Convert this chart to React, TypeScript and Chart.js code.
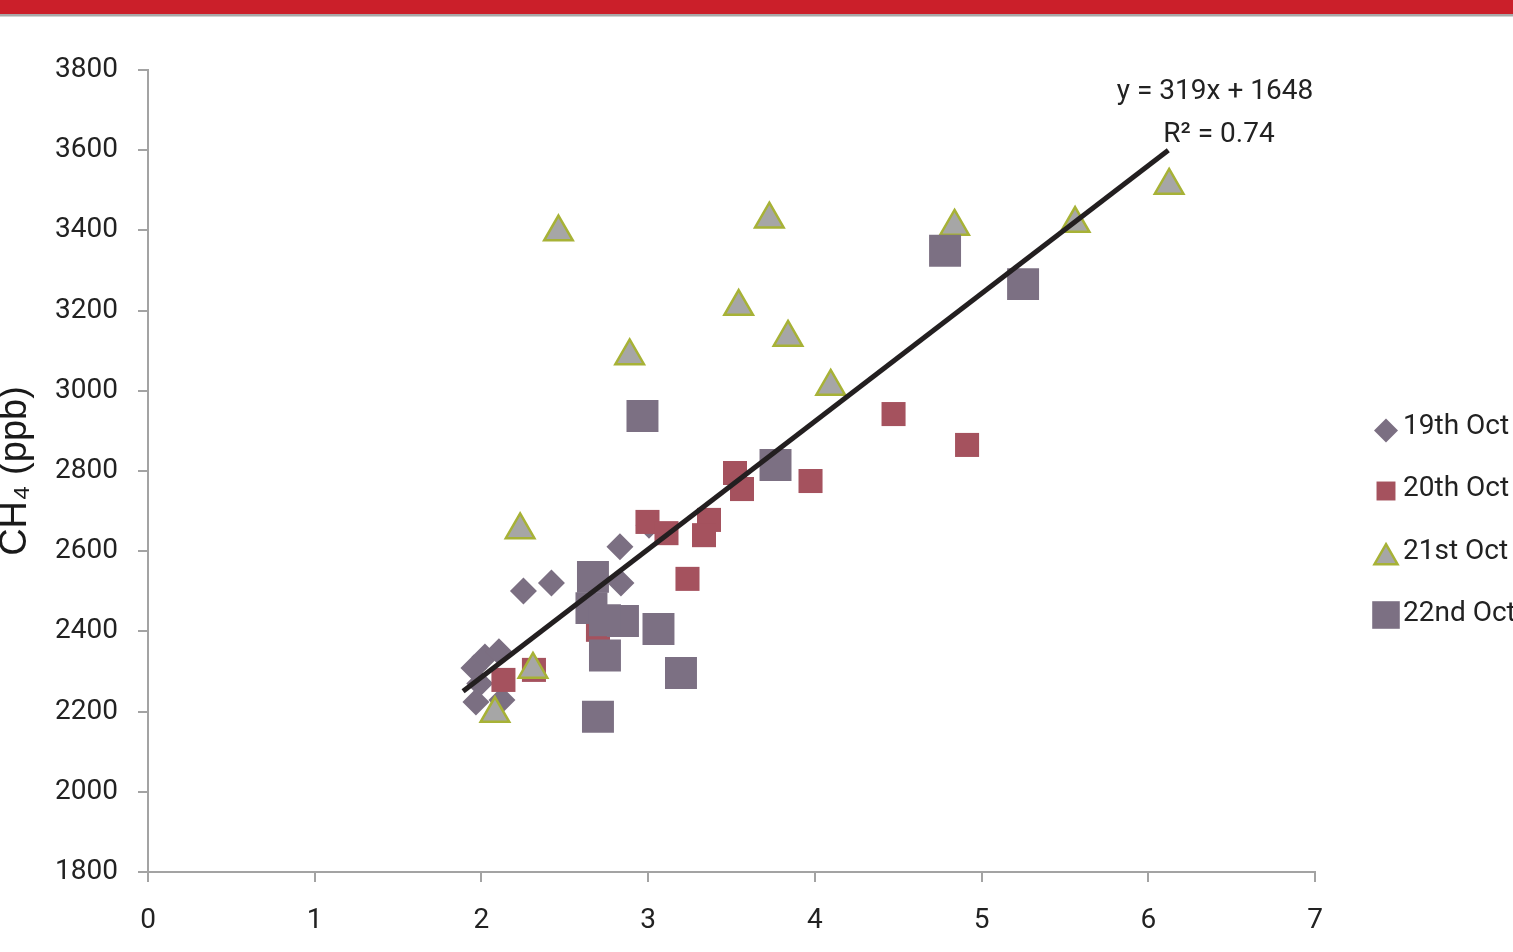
import { useEffect, useRef } from 'react';
import { Chart, registerables } from 'chart.js';
import { drawPoint } from 'chart.js/helpers';

Chart.register(...registerables);

// ---- data ----
const seriesLabels = ['19th Oct', '20th Oct', '21st Oct', '22nd Oct'];

const x19 = [1.955, 2.021, 2.105, 1.99, 1.967, 2.123, 2.252, 2.42, 2.831, 2.837, 3.005];
const y19 = [2309, 2336, 2349, 2270, 2224, 2229, 2501, 2521, 2611, 2521, 2665];

const x20 = [4.472, 4.913, 3.974, 3.521, 3.563, 3.365, 3.335, 2.996, 3.11, 3.236, 2.132, 2.315, 2.699];
const y20 = [2942, 2865, 2775, 2795, 2755, 2678, 2640, 2673, 2645, 2531, 2279, 2304, 2404];

const x21 = [2.462, 3.727, 3.543, 3.839, 2.889, 4.095, 4.838, 5.561, 6.125, 2.232, 2.309, 2.081];
const y21 = [3396, 3428, 3210, 3133, 3087, 3011, 3410, 3417, 3512, 2653, 2305, 2195];

const x22 = [4.781, 5.249, 2.966, 3.764, 2.669, 2.66, 2.849, 2.741, 2.741, 3.062, 3.197, 2.699];
const y22 = [3349, 3266, 2937, 2815, 2536, 2458, 2426, 2428, 2340, 2406, 2296, 2187];

const trendX = [1.89, 6.12];
const trendY = [2251, 3600];
const trendLabel = ['y = 319x + 1648', 'R\u00B2 = 0.74'];

const xMin = 0, xMax = 7, xStep = 1;
const yMin = 1800, yMax = 3800, yStep = 200;
const yTitle = 'CH\u2084 (ppb)';

// ---- styles ----
const FONT = 'Roboto, "Open Sans", sans-serif';
const TEXT = '#222222';
const AXIS = '#A3A3A3';
const styles = [
  { pointStyle: 'rectRot', radius: 13.5, fill: '#7B6F82', border: '#7B6F82', bw: 0, legendR: 12, legendDy: 4 },
  { pointStyle: 'rect', radius: 17, fill: '#A5525E', border: '#A5525E', bw: 0, legendR: 13.4, legendDy: 2 },
  { pointStyle: 'triangle', radius: 16.5, fill: '#A6A6A6', border: '#A7B236', bw: 2.5, legendR: 13.3, legendDy: 6 },
  { pointStyle: 'rect', radius: 22.6, fill: '#7C7083', border: '#7C7083', bw: 0, legendR: 19.5, legendDy: 1 },
];

const toPts = (xs: number[], ys: number[]) => xs.map((x, i) => ({ x, y: ys[i] }));
const seriesX = [x19, x20, x21, x22];
const seriesY = [y19, y20, y21, y22];

export default function App() {
  const ref = useRef<HTMLCanvasElement>(null);

  useEffect(() => {
    document.body.style.margin = '0';
    const canvas = ref.current!;

    const topBar = {
      id: 'topBar',
      beforeDraw(chart: any) {
        const { ctx, width } = chart;
        ctx.save();
        ctx.fillStyle = '#ffffff';
        ctx.fillRect(0, 0, width, chart.height);
        ctx.fillStyle = '#CB1F2A';
        ctx.fillRect(0, 0, width, 14);
        ctx.fillStyle = '#A8A8A8';
        ctx.fillRect(0, 14, width, 2.5);
        ctx.restore();
      },
    };

    const annotation = {
      id: 'trendText',
      afterDraw(chart: any) {
        const { ctx, chartArea } = chart;
        ctx.save();
        ctx.fillStyle = TEXT;
        ctx.font = `28px ${FONT}`;
        ctx.textAlign = 'center';
        ctx.textBaseline = 'middle';
        ctx.fillText(trendLabel[0], chartArea.right - 100, 92);
        ctx.fillText(trendLabel[1], chartArea.right - 96, 135);
        ctx.restore();
      },
    };

    const legend = {
      id: 'customLegend',
      afterDraw(chart: any) {
        const { ctx } = chart;
        ctx.save();
        seriesLabels.forEach((label, i) => {
          const s = styles[i];
          const cy = 426.5 + i * 62.5;
          ctx.fillStyle = s.fill;
          ctx.strokeStyle = s.border;
          ctx.lineWidth = s.bw;
          drawPoint(ctx, { pointStyle: s.pointStyle as any, radius: s.legendR, rotation: 0, borderWidth: s.bw }, 1386, cy + s.legendDy);
          ctx.fillStyle = TEXT;
          ctx.font = `28px ${FONT}`;
          ctx.textAlign = 'left';
          ctx.textBaseline = 'middle';
          ctx.fillText(label, 1403, cy);
        });
        ctx.restore();
      },
    };

    const datasets: any[] = seriesLabels.map((label, i) => ({
      type: 'scatter',
      label,
      data: toPts(seriesX[i], seriesY[i]),
      pointStyle: styles[i].pointStyle,
      pointRadius: styles[i].radius,
      pointHoverRadius: styles[i].radius,
      backgroundColor: styles[i].fill,
      borderColor: styles[i].border,
      pointBorderWidth: styles[i].bw,
      order: 4 - i,
    }));
    datasets.push({
      type: 'line',
      label: 'trend',
      data: toPts(trendX, trendY),
      borderColor: '#231F20',
      borderWidth: 5,
      pointRadius: 0,
      showLine: true,
      fill: false,
      order: 0,
    });

    const chart = new Chart(canvas, {
      type: 'scatter',
      data: { datasets },
      options: {
        responsive: false,
        maintainAspectRatio: false,
        devicePixelRatio: 1,
        animation: false,
        layout: { padding: { top: 70, right: 198, bottom: 0, left: 0 } },
        plugins: { legend: { display: false }, tooltip: { enabled: false } },
        scales: {
          x: {
            type: 'linear',
            min: xMin,
            max: xMax,
            ticks: { stepSize: xStep, padding: 22, color: TEXT, font: { family: FONT, size: 28 }, callback: (v: any) => String(v) },
            grid: { drawOnChartArea: false, drawTicks: true, tickLength: 10, color: AXIS, lineWidth: 2 },
            border: { display: true, color: AXIS, width: 2 },
            afterFit: (s: any) => { s.height = 80; },
          },
          y: {
            type: 'linear',
            min: yMin,
            max: yMax,
            ticks: { stepSize: yStep, padding: 20, color: TEXT, font: { family: FONT, size: 28 }, callback: (v: any) => String(v) },
            grid: { drawOnChartArea: false, drawTicks: true, tickLength: 10, color: AXIS, lineWidth: 2 },
            border: { display: true, color: AXIS, width: 2 },
            title: {
              display: true,
              text: yTitle,
              color: '#1a1a1a',
              font: { family: '"Liberation Sans", Arial, sans-serif', size: 38, lineHeight: 0.8 },
              padding: 0,
            },
            afterFit: (s: any) => { s.width = 148; },
          },
        },
      } as any,
      plugins: [topBar, annotation, legend],
    });
    return () => chart.destroy();
  }, []);

  return <canvas ref={ref} width={1513} height={952} style={{ display: 'block' }} />;
}
